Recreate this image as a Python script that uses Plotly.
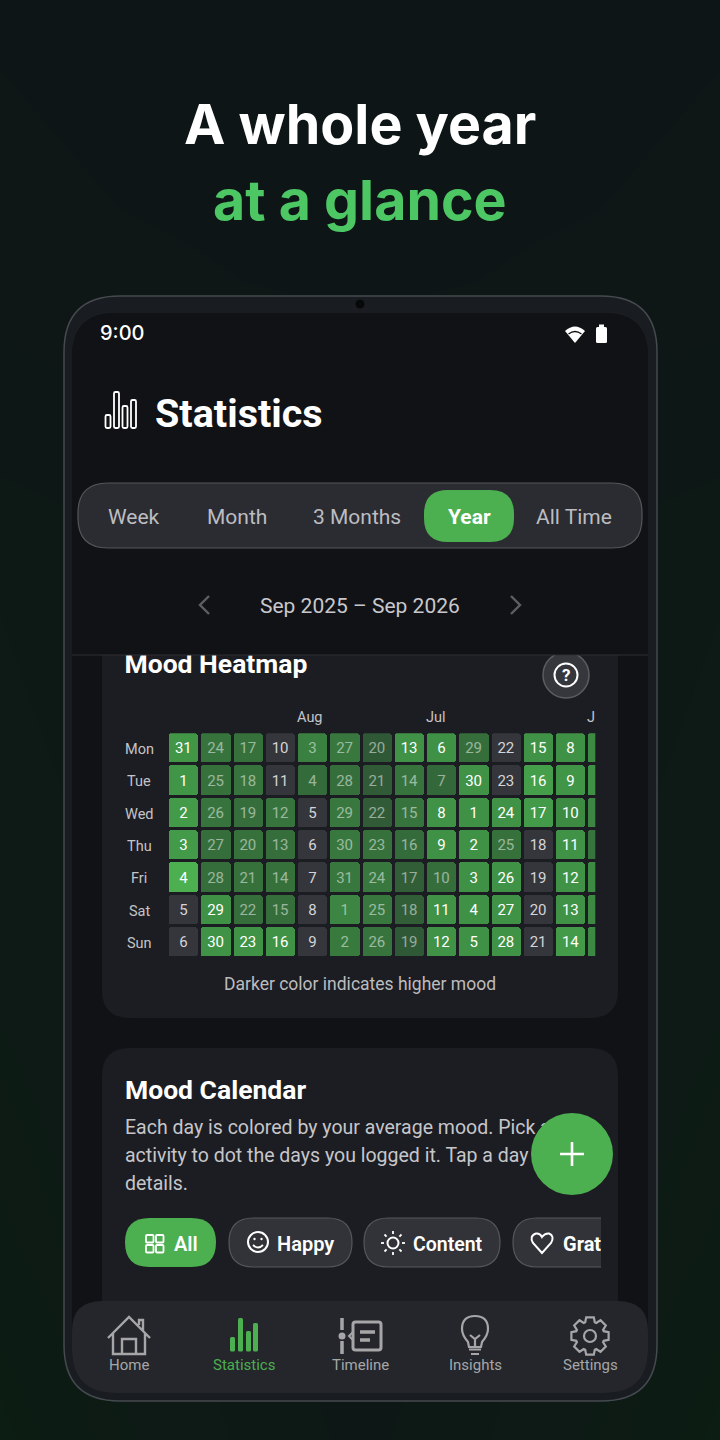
"""
Mood statistics phone screen: year heatmap inside a mock-up of the app.
"""

import math

import plotly.graph_objects as go

WIDTH, HEIGHT = 720, 1440

weekdays = ["Mon", "Tue", "Wed", "Thu", "Fri", "Sat", "Sun"]
month_labels = ["Aug", "Jul", "J"]
month_columns = [4, 8, 13]

day_numbers = [
    [31, 24, 17, 10, 3, 27, 20, 13, 6, 29, 22, 15, 8, ""],
    [1, 25, 18, 11, 4, 28, 21, 14, 7, 30, 23, 16, 9, ""],
    [2, 26, 19, 12, 5, 29, 22, 15, 8, 1, 24, 17, 10, ""],
    [3, 27, 20, 13, 6, 30, 23, 16, 9, 2, 25, 18, 11, ""],
    [4, 28, 21, 14, 7, 31, 24, 17, 10, 3, 26, 19, 12, ""],
    [5, 29, 22, 15, 8, 1, 25, 18, 11, 4, 27, 20, 13, ""],
    [6, 30, 23, 16, 9, 2, 26, 19, 12, 5, 28, 21, 14, ""],
]

# 0 means nothing logged that day
mood_levels = [
    [3.9, 2.6, 2.5, 0, 3.0, 2.7, 1.7, 3.7, 3.6, 2.4, 0, 3.7, 3.6, 3.4],
    [3.8, 2.5, 2.6, 0, 2.3, 2.4, 1.8, 2.6, 2.2, 3.7, 0, 4.2, 3.8, 3.6],
    [4.0, 2.6, 2.4, 2.6, 0, 2.7, 1.8, 2.6, 3.7, 3.6, 3.7, 4.0, 3.4, 3.2],
    [4.0, 2.4, 2.5, 2.4, 0, 2.7, 2.5, 2.3, 3.6, 3.6, 2.5, 0, 3.7, 2.6],
    [5.0, 2.4, 2.5, 2.5, 0, 2.7, 2.7, 1.9, 2.4, 3.6, 3.7, 0, 3.7, 3.4],
    [0, 3.6, 2.4, 2.4, 0, 3.2, 2.7, 1.9, 3.7, 3.6, 3.7, 0, 3.7, 3.3],
    [0, 3.7, 3.7, 3.7, 0, 2.8, 2.6, 1.7, 3.7, 3.6, 3.7, 0, 4.0, 3.3],
]

tab_names = ["Week", "Month", "3 Months", "Year", "All Time"]
tab_centers = [134, 237, 357, 469, 574]
nav_names = ["Home", "Statistics", "Timeline", "Insights", "Settings"]
nav_centers = [129, 244, 360, 475, 590]
description_lines = [
    "Each day is colored by your average mood. Pick an",
    "activity to dot the days you logged it. Tap a day for",
    "details.",
]

# page glow behind the phone, rows top to bottom
glow_x = [0, 120, 360, 600, 720]
glow_y = [0, 280, 560, 900, 1250, 1440]
glow_z = [
    [0.1, 0.05, 0.05, 0.05, 0.1],
    [0.2, 0.15, 0.1, 0.15, 0.2],
    [0.45, 0.4, 0.3, 0.4, 0.45],
    [0.5, 0.45, 0.3, 0.45, 0.5],
    [0.6, 0.5, 0.3, 0.5, 0.6],
    [0.7, 0.55, 0.35, 0.55, 0.7],
]

GREEN = "#4caf50"
TITLE_GREEN = "#4cc764"
CARD = "#1c1d22"
SCREEN = "#111216"
CHIP = "#323338"
CHIP_LINE = "#56575b"
NAV_GREY = "#a6a6a9"
SOFT_TEXT = "#c6c6ca"

COLORSCALE = [
    [0, "#35363c"],
    [0.29, "#35363c"],
    [0.3, "#2d5234"],
    [0.5, "#36713c"],
    [0.72, "#3f9145"],
    [1, GREEN],
]


def rounded(x0, y0, x1, y1, r, bottom_r=None):
    b = r if bottom_r is None else bottom_r
    return (
        f"M {x0 + r} {y0} L {x1 - r} {y0} Q {x1} {y0} {x1} {y0 + r} "
        f"L {x1} {y1 - b} Q {x1} {y1} {x1 - b} {y1} "
        f"L {x0 + b} {y1} Q {x0} {y1} {x0} {y1 - b} "
        f"L {x0} {y0 + r} Q {x0} {y0} {x0 + r} {y0} Z"
    )


fig = go.Figure()


def path(d, fill=None, line=None, width=0, layer="below"):
    fig.add_shape(
        type="path",
        path=d,
        xref="x2",
        yref="y2",
        layer=layer,
        fillcolor=fill if fill else "rgba(0,0,0,0)",
        line=dict(color=line if line else "rgba(0,0,0,0)", width=width),
    )


def circle(cx, cy, r, fill=None, line=None, width=0, layer="below"):
    fig.add_shape(
        type="circle",
        x0=cx - r,
        x1=cx + r,
        y0=cy - r,
        y1=cy + r,
        xref="x2",
        yref="y2",
        layer=layer,
        fillcolor=fill if fill else "rgba(0,0,0,0)",
        line=dict(color=line if line else "rgba(0,0,0,0)", width=width),
    )


def label(x, y, text, size, color="#ffffff", anchor="center", family="Roboto", weight=400):
    fig.add_annotation(
        x=x,
        y=y,
        xref="x2",
        yref="y2",
        text=text,
        showarrow=False,
        xanchor=anchor,
        yanchor="middle",
        borderpad=0,
        font=dict(family=family, size=size, color=color, weight=weight),
    )


# Page background
fig.add_trace(
    go.Heatmap(
        x=glow_x,
        y=glow_y,
        z=glow_z,
        zmin=0,
        zmax=1,
        zsmooth="best",
        colorscale=[[0, "#0e1417"], [0.5, "#0d1a15"], [1, "#0a2110"]],
        showscale=False,
        hoverinfo="skip",
    )
)

# Phone body and screen
path(rounded(64, 296, 657, 1401, 56), fill="#191c21", line="#454a4e", width=1.5)
path(rounded(72, 313, 648, 1393, 44), fill=SCREEN)
circle(360, 304, 4.5, fill="#07080a")

# Heatmap card, its help button and the calendar card
path(rounded(102, 620, 618, 1018, 28), fill=CARD)
circle(566, 675, 23, fill="#36373c", line="#5c5d61", width=1.5)
circle(566, 675, 11.5, line="#ffffff", width=2)
label(566, 675, "?", 17, weight=700)
path(rounded(102, 1048, 618, 1380, 28), fill=CARD)
label(360, 984, "Darker color indicates higher mood", 17.5, color="#bcbcbf")
label(124, 1089, "Mood Calendar", 26.5, anchor="left", weight=700)

# Chips
path(rounded(125, 1218, 216, 1267, 24.5), fill=GREEN)
for x0, y0 in [(146, 1235), (156, 1235), (146, 1245), (156, 1245)]:
    path(rounded(x0, y0, x0 + 7.5, y0 + 7.5, 1), line="#ffffff", width=1.8)
label(186, 1244, "All", 20, weight=600)

path(rounded(229, 1218, 352, 1267, 24.5), fill=CHIP, line=CHIP_LINE, width=1.2)
circle(258, 1242, 10, line="#ffffff", width=2)
circle(254.5, 1239, 1.2, fill="#ffffff")
circle(261.5, 1239, 1.2, fill="#ffffff")
path("M 253 1245 Q 258 1250 263 1245", line="#ffffff", width=1.8)
label(305, 1244, "Happy", 20, weight=600)

path(rounded(364, 1218, 500, 1267, 24.5), fill=CHIP, line=CHIP_LINE, width=1.2)
circle(393, 1243, 5.5, line="#ffffff", width=2)
for i in range(8):
    a = i * math.pi / 4
    path(
        f"M {393 + 9 * math.cos(a):.1f} {1243 + 9 * math.sin(a):.1f} "
        f"L {393 + 12 * math.cos(a):.1f} {1243 + 12 * math.sin(a):.1f}",
        line="#ffffff",
        width=1.8,
    )
label(448, 1244, "Content", 19.5, weight=600)

path(
    "M 537 1218 L 604 1218 L 604 1267 L 537 1267 Q 513 1267 513 1242.5 Q 513 1218 537 1218 Z",
    fill=CHIP,
    line=CHIP_LINE,
    width=1.2,
)
path(
    "M 542 1253 L 533 1243 Q 529 1236 536 1233.5 Q 540 1233 542 1237 "
    "Q 545 1233 549 1233.5 Q 555 1236 551 1243 Z",
    line="#ffffff",
    width=2,
)

# Text that sits under the header, the chip edge and the add button
fig.add_trace(
    go.Scatter(
        x=[124.5, 125, 125, 125, 563],
        y=[666, 1129, 1157, 1185, 1246],
        text=["<b>Mood Heatmap</b>"] + description_lines + ["<b>Grate</b>"],
        mode="text",
        textposition="middle right",
        textfont=dict(
            family="Roboto",
            size=[26.5, 19.5, 19.5, 19.5, 20],
            color=["#ffffff", SOFT_TEXT, SOFT_TEXT, SOFT_TEXT, "#ffffff"],
        ),
        xaxis="x2",
        yaxis="y2",
        showlegend=False,
        hoverinfo="skip",
    )
)

# Heatmap cells
columns = [c for row in mood_levels for c in range(len(row))]
rows = [r for r, row in enumerate(mood_levels) for _ in row]
moods = [m for row in mood_levels for m in row]
days = [d for row in day_numbers for d in row]
half_cell = 0.455

fig.add_trace(
    go.Bar(
        x=columns,
        y=[2 * half_cell] * len(rows),
        base=[r - half_cell for r in rows],
        width=2 * half_cell,
        marker=dict(
            color=moods,
            colorscale=COLORSCALE,
            cmin=0,
            cmax=5,
            cornerradius=3,
            line=dict(width=0),
        ),
        xaxis="x3",
        yaxis="y3",
        showlegend=False,
        hoverinfo="skip",
    )
)

day_colors = []
for m in moods:
    if m == 0:
        day_colors.append("#d4d4d7")
    elif m >= 3.3:
        day_colors.append("#ffffff")
    else:
        day_colors.append("rgba(255,255,255,0.5)")

fig.add_trace(
    go.Scatter(
        x=columns,
        y=[r + 0.05 for r in rows],
        text=days,
        mode="text",
        textposition="middle center",
        textfont=dict(family="Roboto", size=15, color=day_colors),
        xaxis="x3",
        yaxis="y3",
        showlegend=False,
        hoverinfo="skip",
    )
)

for r, name in enumerate(weekdays):
    fig.add_annotation(
        x=139,
        xref="x2",
        y=r + 0.05,
        yref="y3",
        text=name,
        showarrow=False,
        font=dict(family="Roboto", size=14.5, color="#c4c4c8"),
    )
for col, name in zip(month_columns, month_labels):
    fig.add_annotation(
        x=col - half_cell,
        xref="x3",
        xshift=-2.5,
        y=717,
        yref="y2",
        text=name,
        xanchor="left",
        showarrow=False,
        font=dict(family="Roboto", size=14.5, color="#c4c4c8"),
    )

# Header, drawn over the scrolling cards
path(rounded(72, 313, 648, 655, 44, bottom_r=0.1), fill=SCREEN, layer="above")
path("M 72 655 L 648 655", line="#2e2f33", width=1, layer="above")
label(99, 333, "9:00", 20, anchor="left", family="Inter", weight=500)
path(
    "M 565 331 Q 575 322 585 331 L 575 343 Z",
    fill="#ffffff",
    layer="above",
)
path("M 568.5 334 Q 575 329 581.5 334", line=SCREEN, width=1.3, layer="above")
path(rounded(596, 327, 607, 343, 1.5), fill="#ffffff", layer="above")
path("M 599 327 L 599 324.5 L 604 324.5 L 604 327 Z", fill="#ffffff", layer="above")

for x0, y0 in [(105.5, 415), (114, 392), (122.5, 406), (131, 400)]:
    path(rounded(x0, y0, x0 + 5, 428, 1.5), line="#ffffff", width=1.8, layer="above")
label(153.5, 413, "Statistics", 39.5, anchor="left", weight=700)

path(rounded(78, 483, 642, 548, 30), fill="#2b2c31", line="#55565a", width=1.2, layer="above")
path(rounded(424, 490, 514, 542, 24), fill=GREEN, layer="above")
for name, x in zip(tab_names, tab_centers):
    if name == "Year":
        label(x, 517, name, 21, weight=700)
    else:
        label(x, 517, name, 21, color="#bdbdc1")

path("M 209 596 L 200 605 L 209 614", line="#5e5f64", width=2.4, layer="above")
path("M 511 596 L 520 605 L 511 614", line="#5e5f64", width=2.4, layer="above")
label(360, 606, "Sep 2025 – Sep 2026", 21, color="#c8c8cc")

# Edge of the last chip
path("M 601 1214 L 618 1214 L 618 1271 L 601 1271 Z", fill=CARD, layer="above")

# Add button
circle(572, 1154, 41, fill=GREEN, layer="above")
path("M 572 1142 L 572 1166 M 560 1154 L 584 1154", line="#ffffff", width=2.6, layer="above")

# Bottom navigation
path(rounded(72, 1301, 648, 1393, 30, bottom_r=44), fill="#24262b", layer="above")
for name, x in zip(nav_names, nav_centers):
    color = GREEN if name == "Statistics" else NAV_GREY
    label(x, 1365, name, 15, color=color)

path(
    "M 108 1338 L 129 1317 L 150 1338 M 113 1333 L 113 1354 L 145 1354 L 145 1333 "
    "M 122 1354 L 122 1339 L 136 1339 L 136 1354 M 139 1325 L 139 1320 L 143 1320 L 143 1331",
    line=NAV_GREY,
    width=2.4,
    layer="above",
)

for x0, y0 in [(230, 1337), (238, 1318), (246, 1331), (253, 1323)]:
    path(rounded(x0, y0, x0 + 5, 1351.5, 1.5), fill=GREEN, layer="above")

path("M 342 1318 L 342 1330 M 342 1341 L 342 1354", line=NAV_GREY, width=3.5, layer="above")
circle(342, 1336, 3.5, fill=NAV_GREY, layer="above")
path(rounded(353, 1322, 381, 1350, 2.5), line=NAV_GREY, width=3, layer="above")
path("M 353 1332 L 349 1336 L 353 1340", line=NAV_GREY, width=2, layer="above")
path("M 360 1332 L 375 1332 M 360 1340 L 370 1340", line=NAV_GREY, width=3.5, layer="above")

path(
    "M 468 1342 Q 462 1335 462 1329 Q 462 1316 475 1316 Q 488 1316 488 1329 "
    "Q 488 1335 482 1342 L 481 1347 L 469 1347 Z M 470 1335 L 475 1339 L 480 1335 "
    "M 475 1339 L 475 1347",
    line=NAV_GREY,
    width=2.2,
    layer="above",
)
path("M 469 1349.5 L 481 1349.5 M 471 1354 L 479 1354", line=NAV_GREY, width=2.2, layer="above")

# Gear outline
gear_points = []
for i in range(8):
    a = i * math.pi / 4 - math.pi / 2
    for offset, radius in [(-0.34, 14.5), (-0.2, 19), (0.2, 19), (0.34, 14.5)]:
        gear_points.append(
            (590 + radius * math.cos(a + offset), 1336 + radius * math.sin(a + offset))
        )
gear_path = "M " + " L ".join(f"{x:.1f} {y:.1f}" for x, y in gear_points) + " Z"
path(gear_path, line=NAV_GREY, width=2.2, layer="above")
circle(590, 1336, 6, line=NAV_GREY, width=2.2, layer="above")

hidden = dict(visible=False, fixedrange=True)
cell_right = (595.3 - 168.7) / 32.25 - half_cell
fig.update_layout(
    width=WIDTH,
    height=HEIGHT,
    margin=dict(l=0, r=0, t=0, b=0),
    paper_bgcolor="#0e1417",
    plot_bgcolor="rgba(0,0,0,0)",
    barmode="overlay",
    bargap=0,
    showlegend=False,
    xaxis=dict(range=[0, WIDTH], domain=[0, 1], **hidden),
    yaxis=dict(range=[HEIGHT, 0], domain=[0, 1], **hidden),
    xaxis2=dict(range=[0, WIDTH], domain=[0, 1], anchor="y2", **hidden),
    yaxis2=dict(range=[HEIGHT, 0], domain=[0, 1], anchor="x2", **hidden),
    xaxis3=dict(
        range=[-half_cell, cell_right],
        domain=[168.7 / WIDTH, 595.3 / WIDTH],
        anchor="y3",
        **hidden,
    ),
    yaxis3=dict(
        range=[6 + half_cell, -half_cell],
        domain=[1 - 956.7 / HEIGHT, 1 - 733.3 / HEIGHT],
        anchor="x3",
        **hidden,
    ),
)

label(360, 123, "A whole year", 55.5, family="Inter", weight=700)
label(360, 199, "at a glance", 55.5, color=TITLE_GREEN, family="Inter", weight=700)

fig.write_html(
    "out.html",
    post_script="document.body.style.margin='0';",
    config={"displayModeBar": False},
)
